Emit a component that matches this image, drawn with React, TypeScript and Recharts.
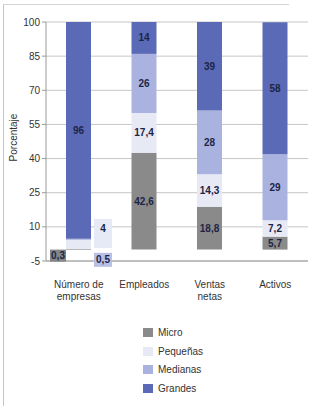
import { BarChart, Bar, XAxis, YAxis, CartesianGrid, Legend, LabelList } from "recharts";

const categories = ["Número de empresas", "Empleados", "Ventas netas", "Activos"];
const micro = [0.3, 42.6, 18.8, 5.7];
const pequenas = [4, 17.4, 14.3, 7.2];
const medianas = [0.5, 26, 28, 29];
const grandes = [96, 14, 39, 58];
const yTicks = [-5, 10, 25, 40, 55, 70, 85, 100];

const series = [
  { key: "micro", name: "Micro", color: "#8a8a8a" },
  { key: "pequenas", name: "Pequeñas", color: "#e7e9f5" },
  { key: "medianas", name: "Medianas", color: "#aab3df" },
  { key: "grandes", name: "Grandes", color: "#5a6ab6" },
];

const data = categories.map((name, i) => ({
  name,
  micro: micro[i],
  pequenas: pequenas[i],
  medianas: medianas[i],
  grandes: grandes[i],
}));

const labelColor = "#1d2547";
const fmt = (v: number) => String(v).replace(".", ",");

// first category: the small segments get their labels in boxes beside the bar
const makeLabel = (key: string) => (props: any) => {
  const vb = props.viewBox ?? props;
  const x = Number(vb.x);
  const w = Number(vb.width);
  const top = Math.min(Number(vb.y), Number(vb.y) + Number(vb.height));
  const bottom = top + Math.abs(Number(vb.height));
  const txt = fmt(Number(props.value));
  const t = (cx: number, cy: number) => (
    <text x={cx} y={cy} textAnchor="middle" dominantBaseline="central" fontSize={10} fontWeight="bold" fill={labelColor}>
      {txt}
    </text>
  );
  if (props.index === 0 && key === "micro") {
    return (
      <g>
        <rect x={x - 16} y={bottom} width={16} height={12} fill="#858585" />
        {t(x - 8, bottom + 6)}
      </g>
    );
  }
  if (props.index === 0 && key === "pequenas") {
    return (
      <g>
        <rect x={x + w + 3} y={bottom - 30} width={18} height={29} fill="#e6e9f6" />
        {t(x + w + 12, bottom - 20)}
      </g>
    );
  }
  if (props.index === 0 && key === "medianas") {
    return (
      <g>
        <rect x={x + w + 3} y={bottom + 13} width={18} height={14} fill="#b9c0e5" />
        {t(x + w + 12, bottom + 20)}
      </g>
    );
  }
  return t(x + w / 2, (top + bottom) / 2);
};

const CatTick = (props: any) => {
  const { x, y, payload } = props;
  const s = String(payload.value);
  const i = s.lastIndexOf(" ");
  const lines = i > 0 ? [s.slice(0, i), s.slice(i + 1)] : [s];
  return (
    <text x={x} y={y + 19} textAnchor="middle" fontSize={10} fill="#333">
      {lines.map((l, k) => (
        <tspan key={k} x={x} dy={k === 0 ? 0 : 12}>
          {l}
        </tspan>
      ))}
    </text>
  );
};

const order = (p: any) => series.findIndex((s) => s.key === p.dataKey);

const LegendBox = (props: any) => (
  <div style={{ fontSize: 10, color: "#333" }}>
    {[...(props.payload || [])].sort((a: any, b: any) => order(a) - order(b)).map((p: any) => (
      <div key={p.value} style={{ display: "flex", alignItems: "center", height: 18.7 }}>
        <span style={{ width: 10, height: 9, background: p.color, marginRight: 5, display: "inline-block" }} />
        <span>{p.value}</span>
      </div>
    ))}
  </div>
);

export default function App() {
  return (
    <div style={{ position: "absolute", left: 0, top: 0, width: 320, height: 406, background: "#fff", fontFamily: "'Liberation Sans', Arial, sans-serif" }}>
      <div style={{ position: "absolute", left: 3, top: 4, width: 285, height: 402, borderLeft: "1px solid #c4c4c4", borderTop: "1px solid #d4d4d4" }} />
      <BarChart width={320} height={406} data={data} margin={{ top: 22, right: 12, bottom: 115, left: 0 }} barSize={25}>
        <CartesianGrid vertical={false} stroke="#c6c6c6" />
        <XAxis dataKey="name" tickLine={false} axisLine={{ stroke: "#9a9a9a" }} tick={<CatTick />} interval={0} height={30} />
        <YAxis
          domain={[-5, 100]}
          ticks={yTicks}
          allowDataOverflow
          width={46}
          tickSize={4}
          tick={{ fontSize: 10, fill: "#333" }}
          axisLine={{ stroke: "#9a9a9a" }}
          tickLine={{ stroke: "#9a9a9a" }}
          label={{
            value: "Porcentaje",
            content: (p: any) => {
              const vb = p.viewBox || { x: 0, y: 22, height: 239 };
              const cx = vb.x + 13;
              const cy = vb.y + vb.height / 2 - 4;
              return (
                <text x={cx} y={cy} transform={`rotate(-90, ${cx}, ${cy})`} textAnchor="middle" dominantBaseline="central" fontSize={10} fill="#333">
                  Porcentaje
                </text>
              );
            },
          }}
        />
        <YAxis yAxisId="r" orientation="right" width={0} domain={[-5, 100]} tick={false} tickLine={false} axisLine={{ stroke: "#7a7a7a" }} />
        {series.map((s) => (
          <Bar key={s.key} dataKey={s.key} name={s.name} stackId="a" fill={s.color} isAnimationActive={false}>
            <LabelList dataKey={s.key} content={makeLabel(s.key)} />
          </Bar>
        ))}
        <Legend
          layout="vertical"
          align="center"
          verticalAlign="middle"
          content={<LegendBox />}
          wrapperStyle={{ position: "absolute", top: 323, left: 143, width: "auto", height: "auto" }}
        />
      </BarChart>
    </div>
  );
}
